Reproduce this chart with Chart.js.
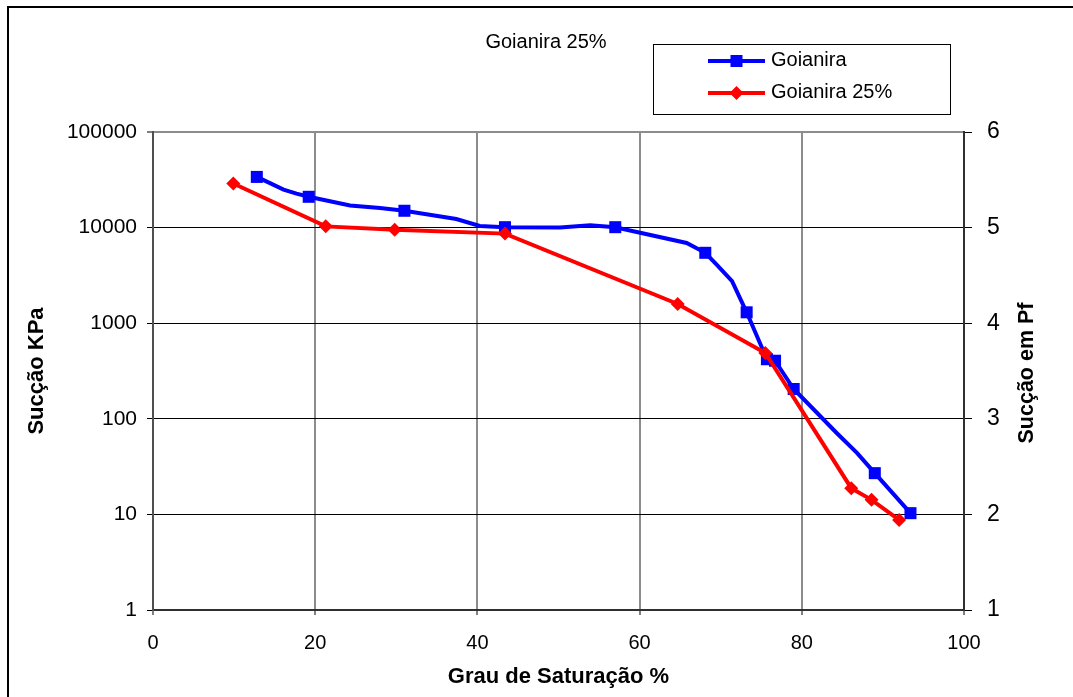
<!DOCTYPE html>
<html lang="pt">
<head>
<meta charset="utf-8">
<title>Goianira 25%</title>
<script src="https://cdn.jsdelivr.net/npm/chart.js@4.4.1/dist/chart.umd.min.js"></script>
<style>
    html, body { margin: 0; padding: 0; background: #ffffff; }
    #wrap { width: 1073px; height: 697px; }
</style>
</head>
<body>
<div id="wrap"><canvas id="suctionChart" width="1073" height="697"></canvas></div>
<script>
// ---------------------------------------------------------------
// Data
// ---------------------------------------------------------------
const chartTitle = 'Goianira 25%';

// Goianira: vertices of the drawn curve, measured points carry a marker
const goianiraSat = [12.8, 16.1, 17.7, 19.2, 24.3, 28.0, 31.0, 37.4, 40.3, 43.4, 50.2, 53.9, 57.0,
                     65.8, 68.1, 69.5, 71.4, 73.2, 75.7, 76.7, 79.0, 84.3, 86.8, 89.0, 93.4];
const goianiraKpa = [33900, 25000, 22700, 21000, 17000, 16000, 15000, 12300, 10400, 10100, 10000, 10600, 10100,
                     6900, 5450, 4100, 2750, 1300, 420, 405, 205, 71, 44, 27, 10.3];
const goianiraMeasured = [true, false, false, true, false, false, true, false, false, true, false, false, true,
                          false, true, false, false, true, true, true, true, false, false, true, true];

// Goianira 25%
const goianira25Sat = [9.9, 21.3, 29.8, 43.4, 64.7, 75.5, 86.1, 88.6, 92.0];
const goianira25Kpa = [28900, 10300, 9500, 8650, 1590, 488, 18.8, 14.2, 8.75];

// Axes
const xTicks = [0, 20, 40, 60, 80, 100];
const kpaTicks = [1, 10, 100, 1000, 10000, 100000];
const pfTicks = [1, 2, 3, 4, 5, 6];

const seriesLabels = ['Goianira', 'Goianira 25%'];
const seriesColors = ['#0000ff', '#ff0000'];

const FONT = "'Liberation Sans', Arial, sans-serif";

function toPoints(xs, ys) {
    return xs.map((x, i) => ({ x: x, y: ys[i] }));
}

// outer frame, title, legend and the right axis title
const decorPlugin = {
    id: 'decor',
    afterDraw(chart) {
        const ctx = chart.ctx;
        ctx.save();

        // outer frame (runs off the right and bottom edges)
        ctx.strokeStyle = '#000000';
        ctx.lineWidth = 2;
        ctx.beginPath();
        ctx.moveTo(8, 697);
        ctx.lineTo(8, 7);
        ctx.lineTo(1073, 7);
        ctx.stroke();

        // title
        ctx.fillStyle = '#000000';
        ctx.font = '20px ' + FONT;
        ctx.textAlign = 'center';
        ctx.textBaseline = 'middle';
        ctx.fillText(chartTitle, 546, 42);

        // legend box
        ctx.lineWidth = 1;
        ctx.strokeStyle = '#000000';
        ctx.strokeRect(653.5, 44.5, 297, 70);

        const rows = [61, 93];
        chart.data.datasets.forEach((ds, i) => {
            const y = rows[i];
            ctx.strokeStyle = ds.borderColor;
            ctx.lineWidth = 4;
            ctx.beginPath();
            ctx.moveTo(708, y);
            ctx.lineTo(765, y);
            ctx.stroke();
            ctx.fillStyle = ds.borderColor;
            ctx.beginPath();
            if (ds.pointStyle === 'rect') {
                ctx.rect(736.5 - 6, y - 6, 12, 12);
            } else {
                ctx.moveTo(736.5, y - 7);
                ctx.lineTo(743.5, y);
                ctx.lineTo(736.5, y + 7);
                ctx.lineTo(729.5, y);
                ctx.closePath();
            }
            ctx.fill();
            ctx.fillStyle = '#000000';
            ctx.font = '20px ' + FONT;
            ctx.textAlign = 'left';
            ctx.textBaseline = 'middle';
            ctx.fillText(ds.label, 771, y - 1);
        });

        // right axis title, reading upwards like the left one
        ctx.translate(1027, 373);
        ctx.rotate(-Math.PI / 2);
        ctx.font = 'bold 21.5px ' + FONT;
        ctx.textAlign = 'center';
        ctx.textBaseline = 'middle';
        ctx.fillStyle = '#000000';
        ctx.fillText('Sucção em Pf', 0, 0);

        ctx.restore();
    }
};

const canvas = document.getElementById('suctionChart');

new Chart(canvas, {
    type: 'line',
    data: {
        datasets: [
            {
                label: seriesLabels[0],
                data: toPoints(goianiraSat, goianiraKpa),
                borderColor: seriesColors[0],
                backgroundColor: seriesColors[0],
                borderWidth: 4,
                tension: 0,
                pointStyle: 'rect',
                pointRadius: ctx => goianiraMeasured[ctx.dataIndex] ? 8.5 : 0,
                pointBorderWidth: 0,
                order: 1
            },
            {
                label: seriesLabels[1],
                data: toPoints(goianira25Sat, goianira25Kpa),
                borderColor: seriesColors[1],
                backgroundColor: seriesColors[1],
                borderWidth: 4,
                tension: 0,
                pointStyle: 'rectRot',
                pointRadius: 7,
                pointBorderWidth: 0,
                order: 0
            }
        ]
    },
    options: {
        responsive: false,
        animation: false,
        layout: { padding: { left: 0, right: 0, top: 132, bottom: 0 } },
        plugins: {
            legend: { display: false },
            title: { display: false },
            tooltip: { enabled: false }
        },
        scales: {
            x: {
                type: 'linear',
                position: 'bottom',
                min: 0,
                max: 100,
                afterBuildTicks: scale => { scale.ticks = xTicks.map(v => ({ value: v })); },
                afterFit: scale => { scale.height = 87; },
                ticks: {
                    color: '#000000',
                    font: { family: FONT, size: 20 },
                    padding: 16,
                    maxRotation: 0
                },
                grid: {
                    color: '#8c8c8c',
                    lineWidth: 2,
                    tickColor: '#000000',
                    tickLength: 5,
                    tickWidth: 1
                },
                border: { color: '#303030', width: 2 },
                title: {
                    display: true,
                    text: 'Grau de Saturação %',
                    color: '#000000',
                    font: { family: FONT, size: 22, weight: 'bold' },
                    padding: { top: 0, bottom: 7 }
                }
            },
            y: {
                type: 'logarithmic',
                position: 'left',
                min: 1,
                max: 100000,
                afterBuildTicks: scale => { scale.ticks = kpaTicks.map(v => ({ value: v })); },
                afterFit: scale => { scale.width = 153; },
                ticks: {
                    color: '#000000',
                    font: { family: FONT, size: 21 },
                    padding: 10,
                    callback: v => String(v)
                },
                grid: {
                    color: ctx => ctx.tick && ctx.tick.value === 100000 ? '#8c8c8c' : '#000000',
                    lineWidth: ctx => ctx.tick && ctx.tick.value === 100000 ? 2 : 1,
                    tickColor: '#000000',
                    tickLength: 6,
                    tickWidth: 1
                },
                border: { color: '#505050', width: 2 },
                title: {
                    display: true,
                    text: 'Sucção KPa',
                    color: '#000000',
                    font: { family: FONT, size: 22, weight: 'bold' },
                    padding: { top: 24, bottom: 0 }
                }
            },
            y2: {
                type: 'linear',
                position: 'right',
                min: 1,
                max: 6,
                afterBuildTicks: scale => { scale.ticks = pfTicks.map(v => ({ value: v })); },
                afterFit: scale => { scale.width = 109; },
                ticks: {
                    color: '#000000',
                    font: { family: FONT, size: 23 },
                    padding: 15
                },
                grid: {
                    drawOnChartArea: false,
                    tickColor: '#000000',
                    tickLength: 8,
                    tickWidth: 1
                },
                border: { color: '#303030', width: 2 }
            }
        }
    },
    plugins: [decorPlugin]
});
</script>
</body>
</html>
